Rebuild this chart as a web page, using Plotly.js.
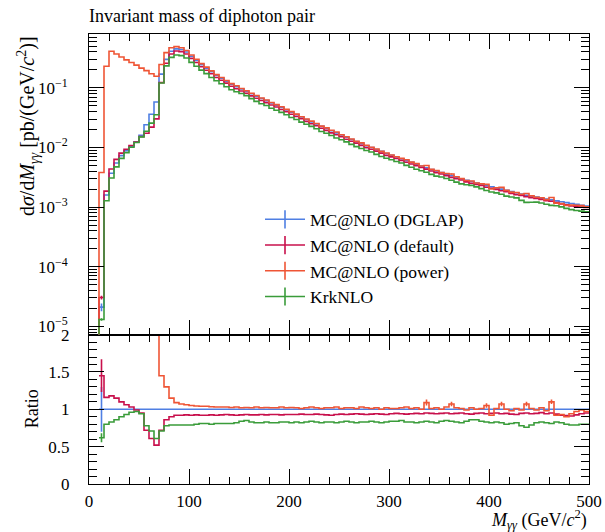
<!DOCTYPE html>
<html><head><meta charset="utf-8">
<script src="https://cdn.plot.ly/plotly-3.0.1.min.js"></script>
<style>
html,body{margin:0;padding:0;background:#fff}
#chart{width:605px;height:532px}
</style>
</head><body><div id="chart"></div>
<script>
// ---------- data ----------
const BIN_WIDTH = 5;          // GeV
const N_BINS = 100;           // 0 .. 500 GeV
const seriesNames = ['MC@NLO (DGLAP)', 'MC@NLO (default)', 'MC@NLO (power)', 'KrkNLO'];
const seriesColors = ['#4f7fe3', '#c8104c', '#ef5535', '#3a9c3a'];

// MC@NLO (DGLAP) — reference distribution, dσ/dM [pb/(GeV/c^2)]
const dglap = [0, 0, 2.1e-5, 1.6e-3, 3.7e-3, 5.5e-3, 7.3e-3, 8.8e-3, 0.0105, 0.0125,
 0.016, 0.024, 0.036, 0.058, 0.17, 0.30, 0.41, 0.45, 0.44, 0.40,
 0.339, 0.288, 0.245, 0.214, 0.186, 0.162, 0.145, 0.129, 0.115, 0.105,
 0.0955, 0.0871, 0.0794, 0.0724, 0.0661, 0.0610, 0.0556, 0.0513, 0.0468, 0.0427,
 0.0389, 0.0355, 0.0324, 0.0295, 0.0269, 0.0248, 0.0226, 0.0209, 0.0191, 0.0176,
 0.0162, 0.0148, 0.0136, 0.0126, 0.0116, 0.0107, 0.0100, 0.00923, 0.00861, 0.00794,
 0.00741, 0.00692, 0.00646, 0.00603, 0.00562, 0.00525, 0.00490, 0.00457, 0.00427, 0.00403,
 0.00380, 0.00355, 0.00335, 0.00316, 0.00299, 0.00282, 0.00269, 0.00254, 0.00243, 0.00229,
 0.00219, 0.00209, 0.00200, 0.00191, 0.00182, 0.00174, 0.00166, 0.00158, 0.00153, 0.00148,
 0.00141, 0.00136, 0.00132, 0.00127, 0.00123, 0.00119, 0.00115, 0.00111, 0.00107, 0.00104];

// Ratios to MC@NLO (DGLAP), as in the lower panel
const ratioDGLAP = [null, null, 1,1,1,1,1,1,1,1, 1,1,1,1,1,1,1,1,1,1, 1,1,1,1,1,1,1,1,1,1,
 1,1,1,1,1,1,1,1,1,1, 1,1,1,1,1,1,1,1,1,1, 1,1,1,1,1,1,1,1,1,1, 1,1,1,1,1,1,1,1,1,1,
 1,1,1,1,1,1,1,1,1,1, 1,1,1,1,1,1,1,1,1,1, 1,1,1,1,1,1,1,1,1,1];

const ratioDefault = [null, null, 1.45, 1.16, 1.18, 1.15, 1.10, 1.06, 1.03, 0.99,
 0.95, 0.72, 0.61, 0.52, 0.72, 0.86, 0.90, 0.92, 0.92, 0.925,
 0.92, 0.925, 0.92, 0.92, 0.925, 0.92, 0.925, 0.93, 0.925, 0.92,
 0.925, 0.93, 0.925, 0.925, 0.93, 0.925, 0.93, 0.93, 0.925, 0.93,
 0.93, 0.93, 0.935, 0.93, 0.93, 0.935, 0.93, 0.925, 0.92, 0.93,
 0.935, 0.93, 0.935, 0.94, 0.935, 0.93, 0.935, 0.94, 0.935, 0.93,
 0.94, 0.945, 0.94, 0.935, 0.94, 0.945, 0.94, 0.95, 0.945, 0.94,
 0.945, 0.95, 0.94, 0.945, 0.95, 0.94, 0.935, 0.945, 0.95, 0.94,
 0.945, 0.95, 0.94, 0.945, 0.935, 0.93, 0.945, 0.95, 0.94, 0.945,
 0.955, 0.94, 0.95, 0.935, 0.92, 0.915, 0.91, 0.925, 0.94, 0.95];

const ratioPower = [null, null, 181, 144, 111, 67, 45, 33.5, 25.3, 19.2,
 13.4, 8.1, 4.8, 2.7, 1.45, 1.3, 1.15, 1.09, 1.07, 1.06,
 1.05, 1.045, 1.04, 1.04, 1.035, 1.03, 1.03, 1.03, 1.025, 1.03,
 1.02, 1.025, 1.02, 1.03, 1.02, 1.025, 1.02, 1.02, 1.03, 1.02,
 1.025, 1.02, 1.01, 1.02, 1.03, 1.02, 1.01, 1.02, 1.02, 1.03,
 1.01, 1.02, 1.02, 1.01, 1.03, 1.02, 1.01, 1.02, 1.00, 1.02,
 1.01, 1.01, 1.02, 1.03, 1.01, 1.02, 1.00, 1.09, 1.01, 1.02,
 1.00, 1.03, 1.07, 1.02, 1.01, 0.99, 1.02, 1.00, 1.01, 1.05,
 0.92, 1.01, 1.07, 1.00, 0.98, 1.01, 0.99, 1.07, 1.01, 0.99,
 1.02, 0.98, 1.10, 0.92, 0.93, 0.90, 0.94, 0.97, 0.99, 0.97];

const ratioKrk = [null, null, 0.62, 0.80, 0.83, 0.86, 0.90, 0.93, 0.96, 0.97,
 0.94, 0.78, 0.71, 0.61, 0.71, 0.78, 0.79, 0.79, 0.79, 0.79,
 0.79, 0.80, 0.81, 0.81, 0.80, 0.81, 0.81, 0.81, 0.81, 0.82,
 0.84, 0.85, 0.83, 0.82, 0.82, 0.83, 0.82, 0.82, 0.83, 0.83,
 0.82, 0.83, 0.82, 0.83, 0.84, 0.83, 0.82, 0.83, 0.83, 0.82,
 0.83, 0.84, 0.83, 0.82, 0.83, 0.83, 0.84, 0.83, 0.82, 0.83,
 0.84, 0.84, 0.85, 0.83, 0.83, 0.82, 0.83, 0.84, 0.83, 0.82,
 0.84, 0.85, 0.84, 0.83, 0.82, 0.84, 0.86, 0.86, 0.84, 0.83,
 0.82, 0.83, 0.82, 0.80, 0.81, 0.82, 0.78, 0.76, 0.79, 0.82,
 0.83, 0.82, 0.81, 0.83, 0.82, 0.80, 0.79, 0.79, 0.80, 0.80];

// visible error bars (bin index, error in ratio units)
const errBinsDGLAP = [2];            const errValsDGLAP = [0.30];
const errBinsDefault = [2];          const errValsDefault = [0.22];
const errBinsPower = [67, 72, 79, 82, 87, 92]; const errValsPower = [0.04, 0.03, 0.03, 0.03, 0.03, 0.03];
const errBinsKrk = [2];              const errValsKrk = [0.06];

const xTickVals = [0, 100, 200, 300, 400, 500];
const yTickVals = [1e-5, 1e-4, 1e-3, 1e-2, 1e-1];
const yTickText = ['10<sup>−5</sup>', '10<sup>−4</sup>', '10<sup>−3</sup>', '10<sup>−2</sup>', '10<sup>−1</sup>'];
const rTickVals = [0, 0.5, 1, 1.5, 2];
const rTickText = ['0', '0.5', '1', '1.5', '2'];

// ---------- build ----------
const edges = [];
for (let i = 0; i <= N_BINS; i++) edges.push(i * BIN_WIDTH);
const centers = edges.slice(0, -1).map(e => e + BIN_WIDTH / 2);

const ratios = [ratioDGLAP, ratioDefault, ratioPower, ratioKrk];
const errBins = [errBinsDGLAP, errBinsDefault, errBinsPower, errBinsKrk];
const errVals = [errValsDGLAP, errValsDefault, errValsPower, errValsKrk];

const TINY = 1e-12; // zero drawn as far below the log range
const traces = [];
const LW = 1.6;
ratios.forEach((r, s) => {
  const top = dglap.map((v, i) => (v === 0 || r[i] === null) ? TINY : v * r[i]);
  traces.push({x: edges, y: top.concat([top[top.length - 1]]), xaxis: 'x2', yaxis: 'y',
    mode: 'lines', line: {shape: 'hv', color: seriesColors[s], width: LW}, showlegend: false, hoverinfo: 'skip'});
  traces.push({x: edges, y: r.concat([r[r.length - 1]]), xaxis: 'x', yaxis: 'y2',
    mode: 'lines', line: {shape: 'hv', color: seriesColors[s], width: LW}, showlegend: false, hoverinfo: 'skip'});
  const eb = errBins[s], ev = errVals[s];
  traces.push({x: eb.map(i => centers[i]), y: eb.map(i => r[i]), xaxis: 'x', yaxis: 'y2', mode: 'markers',
    marker: {size: 1, color: seriesColors[s]}, showlegend: false, hoverinfo: 'skip',
    error_y: {type: 'data', array: ev, width: 0, thickness: LW, color: seriesColors[s]}});
  traces.push({x: eb.map(i => centers[i]), y: eb.map(i => dglap[i] * r[i]), xaxis: 'x2', yaxis: 'y', mode: 'markers',
    marker: {size: 1, color: seriesColors[s]}, showlegend: false, hoverinfo: 'skip',
    error_y: {type: 'data', array: eb.map((i, k) => dglap[i] * ev[k] * 0.5), width: 0, thickness: LW, color: seriesColors[s]}});
});
seriesNames.forEach((n, s) => {
  traces.push({x: [null], y: [null], xaxis: 'x2', yaxis: 'y', name: n, mode: 'lines+markers',
    line: {color: seriesColors[s], width: LW},
    marker: {symbol: 'line-ns', size: 13, color: seriesColors[s], line: {color: seriesColors[s], width: LW}}});
});

const minorLog = [];
for (let d = -6; d <= 0; d++) for (let m = 2; m <= 9; m++) minorLog.push(m * Math.pow(10, d));

const FONT = 'Liberation Serif';
const axisCommon = {showline: true, linecolor: 'black', linewidth: 1, mirror: 'allticks', ticks: 'inside',
  tickcolor: 'black', tickwidth: 1, showgrid: false, zeroline: false};

const layout = {
  width: 605, height: 532,
  margin: {l: 89, r: 16, t: 34, b: 48},
  paper_bgcolor: 'white', plot_bgcolor: 'white',
  font: {family: FONT, size: 16, color: 'black'},
  title: {text: 'Invariant mass of diphoton pair', xref: 'paper', x: 0, xanchor: 'left',
    yref: 'container', y: 1 - 16 / 532, yanchor: 'middle', font: {family: FONT, size: 18, color: 'black'}},
  xaxis: Object.assign({}, axisCommon, {domain: [0, 1], anchor: 'y2', range: [0, 500],
    tickmode: 'array', tickvals: xTickVals, ticklen: 15, tickfont: {family: FONT, size: 17}, ticklabelstandoff: 2,
    minor: {tick0: 0, dtick: 20, ticks: 'inside', ticklen: 7, tickcolor: 'black', tickwidth: 1}}),
  xaxis2: Object.assign({}, axisCommon, {domain: [0, 1], anchor: 'y', matches: 'x', range: [0, 500],
    tickmode: 'array', tickvals: xTickVals, ticklen: 15, showticklabels: false,
    minor: {tick0: 0, dtick: 20, ticks: 'inside', ticklen: 7, tickcolor: 'black', tickwidth: 1}}),
  yaxis: Object.assign({}, axisCommon, {domain: [0.332, 1], anchor: 'x2', type: 'log', range: [-5.138, -0.097],
    tickmode: 'array', tickvals: yTickVals, ticktext: yTickText, ticklen: 15, tickfont: {family: FONT, size: 17},
    ticklabelstandoff: 17,
    minor: {tickmode: 'array', tickvals: minorLog, ticks: 'inside', ticklen: 8, tickcolor: 'black', tickwidth: 1}}),
  yaxis2: Object.assign({}, axisCommon, {domain: [0, 0.332], anchor: 'x', range: [0, 2],
    tickmode: 'array', tickvals: rTickVals, ticktext: rTickText, ticklen: 15, tickfont: {family: FONT, size: 17},
    ticklabelstandoff: 15,
    minor: {tick0: 0, dtick: 0.1, ticks: 'inside', ticklen: 8, tickcolor: 'black', tickwidth: 1}}),
  showlegend: true,
  legend: {x: 0.342, y: 0.628, xanchor: 'left', yanchor: 'top', bgcolor: 'rgba(0,0,0,0)',
    font: {family: FONT, size: 17.5, color: 'black'}, tracegroupgap: 0, itemwidth: 40},
  annotations: [
    {text: 'd<i>σ</i>/d<i>M</i><sub><i>γγ</i></sub> [pb/(GeV/<i>c</i><sup>2</sup>)]', xref: 'paper', yref: 'paper',
      x: -0.122, y: 1, xanchor: 'center', yanchor: 'top', textangle: -90, showarrow: false,
      font: {family: FONT, size: 20, color: 'black'}},
    {text: 'Ratio', xref: 'paper', yref: 'paper', x: -0.114, y: 0.166, xanchor: 'center', yanchor: 'middle',
      textangle: -90, showarrow: false, font: {family: FONT, size: 18, color: 'black'}},
    {text: '<i>M</i><sub><i>γγ</i></sub> (GeV/<i>c</i><sup>2</sup>)', xref: 'paper', yref: 'paper',
      x: 1, y: -0.079, xanchor: 'right', yanchor: 'middle', showarrow: false,
      font: {family: FONT, size: 18, color: 'black'}}
  ]
};

Plotly.newPlot('chart', traces, layout, {staticPlot: true, displayModeBar: false});
</script>
</body></html>
